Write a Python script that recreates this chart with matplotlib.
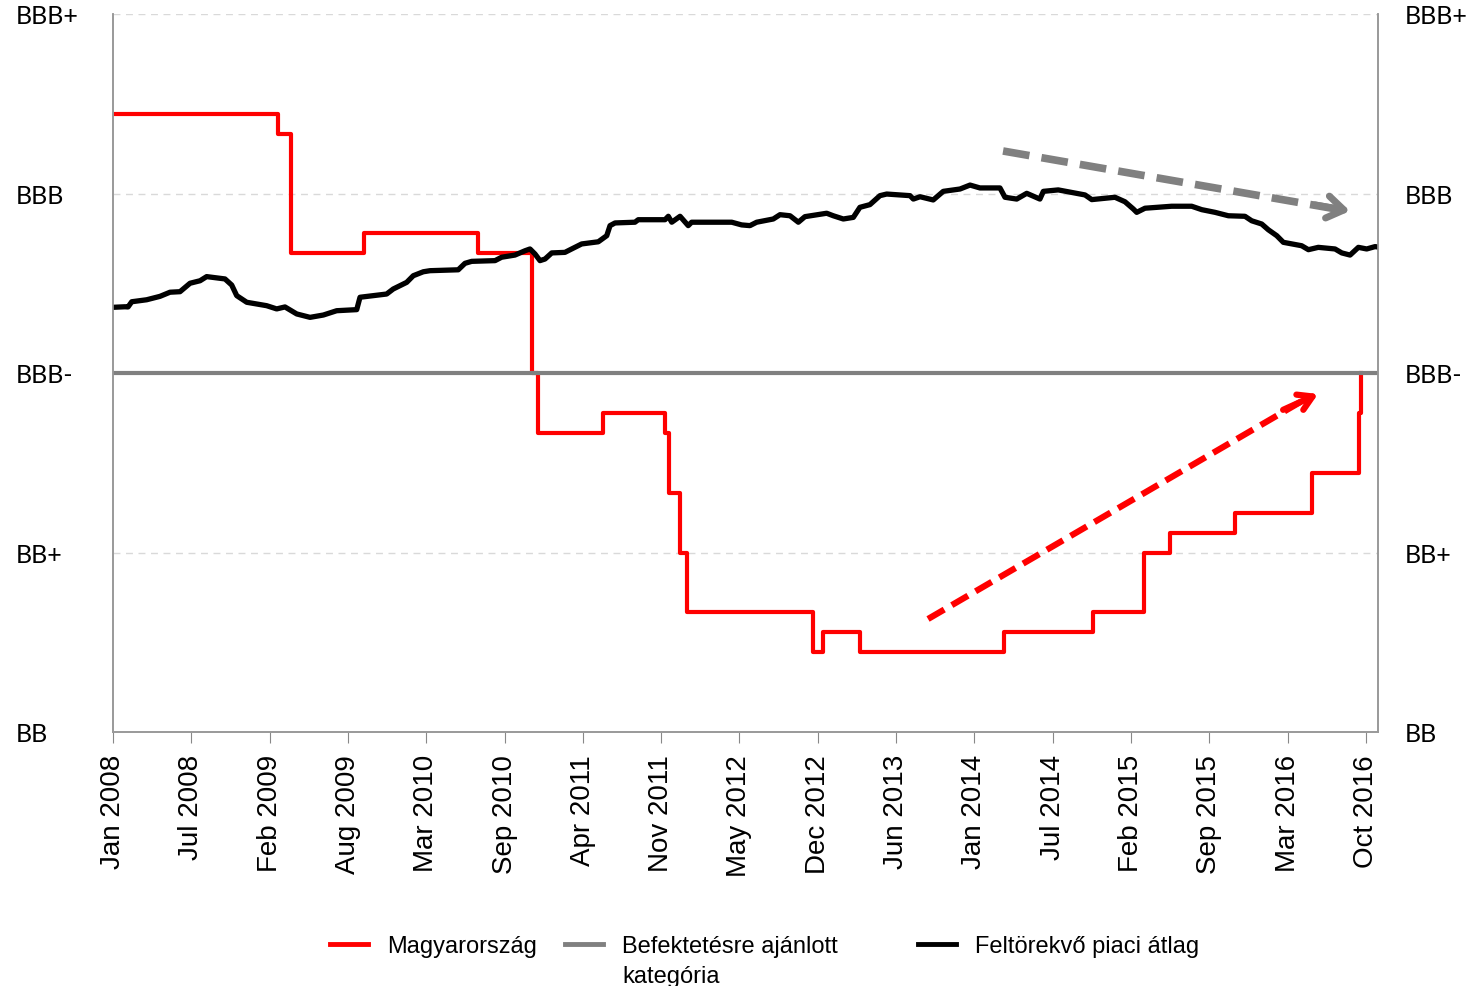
import numpy as np
import matplotlib
matplotlib.use("Agg")
import matplotlib.pyplot as plt
from matplotlib.lines import Line2D

# rating scale: 0 = BB ... 4 = BBB+
rating_labels = ["BB", "BB+", "BBB-", "BBB", "BBB+"]
ig_level = 2.0  # investment grade threshold (BBB-)

# x axis in decimal years
tick_labels = ["Jan 2008", "Jul 2008", "Feb 2009", "Aug 2009", "Mar 2010", "Sep 2010",
               "Apr 2011", "Nov 2011", "May 2012", "Dec 2012", "Jun 2013", "Jan 2014",
               "Jul 2014", "Feb 2015", "Sep 2015", "Mar 2016", "Oct 2016"]
x_start, x_last_tick, x_end = 2008.0, 2016.75, 2016.834

# Hungary (average rating, step series)
hu_t = [2008.0, 2009.152, 2009.241, 2009.753, 2010.549, 2010.926, 2010.968, 2011.422,
        2011.855, 2011.883, 2011.959, 2012.006, 2012.890, 2012.960, 2013.216, 2014.224,
        2014.846, 2015.202, 2015.381, 2015.835, 2016.375, 2016.703, 2016.715]
hu_v = [3.444, 3.333, 2.667, 2.778, 2.667, 2.0, 1.667, 1.778,
        1.667, 1.333, 1.0, 0.667, 0.444, 0.556, 0.444, 0.556,
        0.667, 1.0, 1.111, 1.222, 1.444, 1.778, 2.0]

# emerging market average
em_t = [2008.002, 2008.084, 2008.105, 2008.131, 2008.235, 2008.328, 2008.398, 2008.468,
        2008.538, 2008.608, 2008.654, 2008.782, 2008.829, 2008.864, 2008.934, 2009.073,
        2009.143, 2009.201, 2009.283, 2009.376, 2009.469, 2009.562, 2009.702, 2009.725,
        2009.818, 2009.911, 2009.957, 2010.051, 2010.097, 2010.167, 2010.214, 2010.411,
        2010.458, 2010.505, 2010.668, 2010.714, 2010.807, 2010.877, 2010.912, 2010.947,
        2010.982, 2011.017, 2011.064, 2011.156, 2011.203, 2011.273, 2011.389, 2011.448,
        2011.471, 2011.506, 2011.645, 2011.668, 2011.855, 2011.878, 2011.902, 2011.960,
        2012.017, 2012.041, 2012.321, 2012.390, 2012.448, 2012.495, 2012.611, 2012.658,
        2012.728, 2012.786, 2012.832, 2012.984, 2013.030, 2013.100, 2013.170, 2013.216,
        2013.286, 2013.356, 2013.403, 2013.566, 2013.589, 2013.636, 2013.728, 2013.798,
        2013.915, 2013.985, 2014.054, 2014.194, 2014.229, 2014.311, 2014.381, 2014.473,
        2014.497, 2014.601, 2014.788, 2014.835, 2014.997, 2015.067, 2015.125, 2015.149,
        2015.207, 2015.393, 2015.533, 2015.603, 2015.696, 2015.789, 2015.905, 2015.952,
        2016.022, 2016.068, 2016.127, 2016.173, 2016.301, 2016.348, 2016.417, 2016.534,
        2016.581, 2016.639, 2016.697, 2016.755, 2016.813, 2016.834]
em_v = [2.366, 2.369, 2.368, 2.397, 2.408, 2.427, 2.450, 2.453,
        2.500, 2.514, 2.537, 2.524, 2.490, 2.431, 2.394, 2.375,
        2.357, 2.368, 2.329, 2.310, 2.323, 2.347, 2.353, 2.422,
        2.431, 2.440, 2.468, 2.505, 2.542, 2.564, 2.570, 2.575,
        2.611, 2.622, 2.626, 2.645, 2.657, 2.681, 2.691, 2.663,
        2.626, 2.635, 2.669, 2.672, 2.691, 2.719, 2.731, 2.765,
        2.821, 2.836, 2.840, 2.854, 2.854, 2.873, 2.840, 2.873,
        2.821, 2.840, 2.840, 2.825, 2.821, 2.840, 2.858, 2.882,
        2.876, 2.840, 2.871, 2.890, 2.876, 2.858, 2.867, 2.923,
        2.938, 2.988, 2.997, 2.988, 2.969, 2.982, 2.964, 3.012,
        3.025, 3.047, 3.031, 3.031, 2.979, 2.969, 3.001, 2.969,
        3.012, 3.020, 2.992, 2.966, 2.979, 2.954, 2.914, 2.895,
        2.918, 2.929, 2.929, 2.910, 2.895, 2.876, 2.873, 2.848,
        2.830, 2.798, 2.765, 2.728, 2.709, 2.687, 2.700, 2.691,
        2.669, 2.657, 2.700, 2.691, 2.704, 2.702]

legend_labels = ["Magyarország", "Befektetésre ajánlott\nkategória", "Feltörekvő piaci átlag"]

fig = plt.figure(figsize=(14.68, 9.87), dpi=100)
ax = fig.add_axes([113/1468, 1-733/987, 1265/1468, 718/987])

# dashed grid lines
for lv in [0, 1, 3, 4]:
    ax.axhline(lv, color="#d9d9d9", lw=1, ls=(0, (5, 4)), zorder=0)

l_hu, = ax.plot(hu_t, hu_v, drawstyle="steps-post", color="#ff0000", lw=3, zorder=2)
l_ig = ax.axhline(ig_level, color="#808080", lw=3, zorder=3)
l_em, = ax.plot(em_t, em_v, color="black", lw=3.8, zorder=4)

ax.set_xlim(x_start, x_end)
ax.set_ylim(0, 4)

# x ticks
ax.set_xticks(np.linspace(x_start, x_last_tick, len(tick_labels)))
ax.set_xticklabels(tick_labels, rotation=90, fontsize=20, family=["Liberation Sans", "DejaVu Sans"])
ax.tick_params(axis="x", direction="out", length=8, color="#888888", pad=8)

# y labels on both sides
ax.set_yticks(range(len(rating_labels)))
ax.set_yticklabels(rating_labels, fontsize=18, family=["Lato", "DejaVu Sans"])
ax.tick_params(axis="y", length=0, pad=70)
for lab in ax.get_yticklabels():
    lab.set_horizontalalignment("left")
ax2 = ax.twinx()
ax2.set_ylim(0, 4)
ax2.set_yticks(range(len(rating_labels)))
ax2.set_yticklabels(rating_labels, fontsize=18, family=["Lato", "DejaVu Sans"])
ax2.tick_params(axis="y", length=0, pad=19)

for a in (ax, ax2):
    a.spines["top"].set_visible(False)
    for s in ["left", "right", "bottom"]:
        a.spines[s].set_color("#999999")
        a.spines[s].set_linewidth(1.2)

# trend arrows (axes fraction)
ax.plot([0.7036, 0.965], [0.8092, 0.729], transform=ax.transAxes, color="#808080",
        lw=5.5, ls=(0, (3.5, 1.6)), solid_capstyle="butt", zorder=5)
ax.annotate("", xy=(0.9779, 0.7256), xytext=(0.95, 0.7342), xycoords="axes fraction",
            arrowprops=dict(arrowstyle="->,head_length=1.2,head_width=0.8", lw=5, color="#808080",
                            shrinkA=0, shrinkB=0),
            zorder=5)
ax.plot([0.6443, 0.94], [0.1574, 0.461], transform=ax.transAxes, color="#ff0000",
        lw=4.5, ls=(0, (3, 1.4)), solid_capstyle="butt", zorder=5)
ax.annotate("", xy=(0.9526, 0.4708), xytext=(0.925, 0.4487), xycoords="axes fraction",
            arrowprops=dict(arrowstyle="->,head_length=1.0,head_width=0.6", lw=4.5, color="#ff0000",
                            shrinkA=0, shrinkB=0),
            zorder=5)

# legend drawn in figure coordinates, handle aligned with first text line
leg_font = {"family": ["Liberation Sans", "DejaVu Sans"], "size": 17}
leg_x = [330, 565, 918]
for line, label, x0 in zip([l_hu, l_ig, l_em], legend_labels, leg_x):
    y = 1 - 945/987
    fig.add_artist(Line2D([x0/1468, (x0+38)/1468], [y, y], transform=fig.transFigure,
                          color=line.get_color(), lw=3.5))
    fig.text((x0+57)/1468, 1 - 936/987, label, va="top", ha="left", linespacing=1.45, **leg_font)

fig.savefig("out.png", dpi=100)
